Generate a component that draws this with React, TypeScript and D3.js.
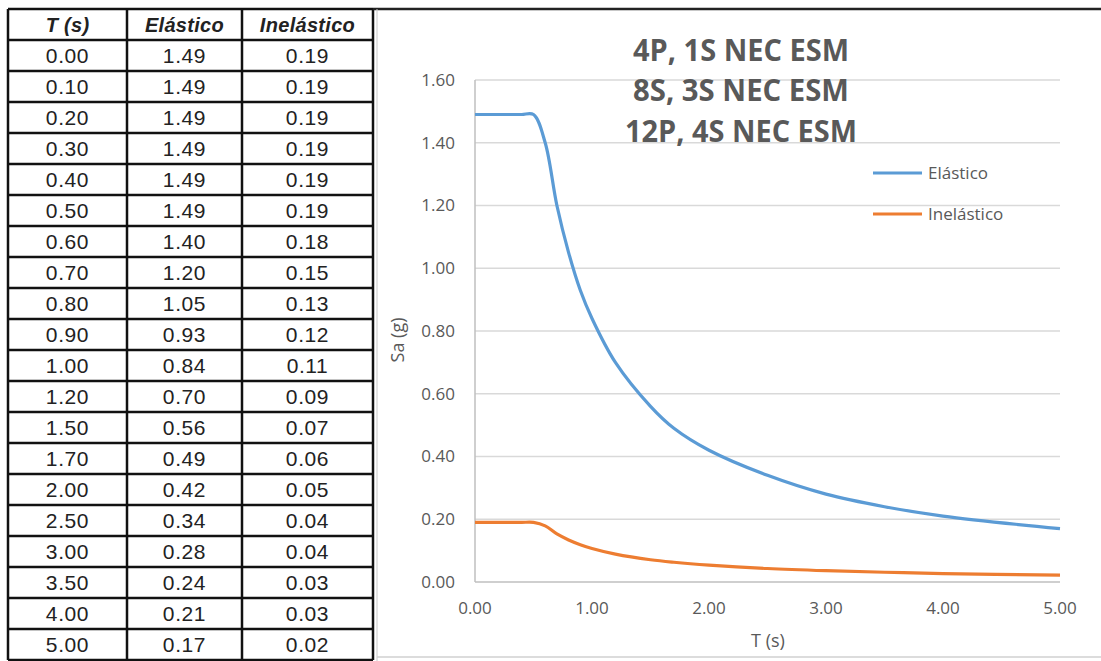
import React from "react";
import * as d3 from "d3";

// table values
const periods = [0, 0.1, 0.2, 0.3, 0.4, 0.5, 0.6, 0.7, 0.8, 0.9, 1.0, 1.2, 1.5, 1.7, 2.0, 2.5, 3.0, 3.5, 4.0, 5.0];
const elastico = [1.49, 1.49, 1.49, 1.49, 1.49, 1.49, 1.4, 1.2, 1.05, 0.93, 0.84, 0.7, 0.56, 0.49, 0.42, 0.34, 0.28, 0.24, 0.21, 0.17];
const inelastico = [0.19, 0.19, 0.19, 0.19, 0.19, 0.19, 0.18, 0.15, 0.13, 0.12, 0.11, 0.09, 0.07, 0.06, 0.05, 0.04, 0.04, 0.03, 0.03, 0.02];
// plotted inelastic curve (smoother than the rounded table)
const inelasticoCurve = [0.19, 0.19, 0.19, 0.19, 0.19, 0.19, 0.179, 0.153, 0.134, 0.119, 0.107, 0.089, 0.071, 0.063, 0.054, 0.043, 0.036, 0.031, 0.027, 0.022];
const headers = ["T (s)", "Elástico", "Inelástico"];
const titleLines = ["4P, 1S NEC ESM", "8S, 3S NEC ESM", "12P, 4S NEC ESM"];
const yTicks = [0, 0.2, 0.4, 0.6, 0.8, 1.0, 1.2, 1.4, 1.6];
const xTicks = [0, 1, 2, 3, 4, 5];

const series = [
  { name: "Elástico", values: elastico, color: "#5B9BD5" },
  { name: "Inelástico", values: inelasticoCurve, color: "#ED7D31" },
];

const W = 1101;
const H = 661;
const gray = "#595959";
const chartFont = "'Open Sans', sans-serif";
const tableFont = "'Liberation Sans', Arial, sans-serif";

const App = () => {
  // table geometry
  const colEdges = [8, 127, 242, 373];
  const tableTop = 9;
  const rowH = 31;
  const tableBottom = tableTop + rowH * (periods.length + 1);

  const x = d3.scaleLinear().domain([0, 5]).range([475, 1060]);
  const y = d3.scaleLinear().domain([0, 1.6]).range([582, 80]);

  const line = (vals: number[]) =>
    d3
      .line<number>()
      .x((_, i) => x(periods[i]))
      .y((d) => y(d))
      .curve(d3.curveCatmullRom.alpha(0.5))(vals) || "";

  const fmt = d3.format(".2f");
  const rows = periods.map((t, i) => [fmt(t), fmt(elastico[i]), fmt(inelastico[i])]);
  const colCenter = (c: number) => (colEdges[c] + colEdges[c + 1]) / 2;

  return (
    <svg width={W} height={H} style={{ position: "fixed", left: 0, top: 0, background: "#fff" }}>
      <rect width={W} height={H} fill="#fff" />

      {/* table */}
      <g fontFamily={tableFont} fill="#222">
        {headers.map((h, c) => (
          <text
            key={h}
            x={colCenter(c)}
            y={tableTop + rowH / 2 + 7}
            textAnchor="middle"
            fontSize={20}
            fontWeight="bold"
            fontStyle="italic"
            letterSpacing={0.3}
          >
            {h}
          </text>
        ))}
        {rows.map((r, i) =>
          r.map((v, c) => (
            <text
              key={`${i}-${c}`}
              x={colCenter(c)}
              y={tableTop + rowH * (i + 1) + rowH / 2 + 7.5}
              textAnchor="middle"
              fontSize={21}
              letterSpacing={0.6}
            >
              {v}
            </text>
          ))
        )}
        {d3.range(periods.length + 2).map((i) => (
          <line
            key={`h${i}`}
            x1={colEdges[0]}
            x2={colEdges[3]}
            y1={tableTop + i * rowH}
            y2={tableTop + i * rowH}
            stroke="#111"
            strokeWidth={2.5}
          />
        ))}
        {colEdges.map((cx, i) => (
          <line key={`v${i}`} x1={cx} x2={cx} y1={tableTop} y2={tableBottom} stroke="#111" strokeWidth={2.5} />
        ))}
      </g>

      {/* chart frame */}
      <line x1={373} x2={W} y1={9} y2={9} stroke="#222" strokeWidth={2.5} />
      <line x1={377} x2={377} y1={9} y2={H} stroke="#c8c8c8" strokeWidth={1} />
      <line x1={377} x2={W} y1={657} y2={657} stroke="#d0d0d0" strokeWidth={1.5} />

      {/* grid */}
      {yTicks.slice(1).map((t) => (
        <line key={t} x1={x(0)} x2={x(5)} y1={y(t)} y2={y(t)} stroke="#d9d9d9" strokeWidth={1.3} />
      ))}
      <line x1={x(0)} x2={x(5)} y1={y(0)} y2={y(0)} stroke="#bfbfbf" strokeWidth={1.5} />
      <line x1={x(0)} x2={x(0)} y1={y(1.6)} y2={y(0)} stroke="#bfbfbf" strokeWidth={1.5} />

      {/* tick labels */}
      <g fontFamily={chartFont} fontSize={17} fill={gray}>
        {yTicks.map((t) => (
          <text key={t} x={455} y={y(t)} dy="0.35em" textAnchor="end">
            {fmt(t)}
          </text>
        ))}
        {xTicks.map((t) => (
          <text key={t} x={x(t)} y={608} dy="0.35em" textAnchor="middle">
            {fmt(t)}
          </text>
        ))}
        <text x={768} y={641} dy="0.35em" textAnchor="middle" fontSize={18}>
          T (s)
        </text>
        <text transform="translate(398,340) rotate(-90)" dy="0.35em" textAnchor="middle" fontSize={18}>
          Sa (g)
        </text>
      </g>

      {/* title */}
      <g fontFamily={chartFont} fontWeight="bold" fontSize={30} fill={gray}>
        {titleLines.map((t, i) => (
          <text
            key={t}
            x={741}
            y={50 + i * 40.5}
            dy="0.36em"
            textAnchor="middle"
            textLength={i === 2 ? 232 : 216}
            lengthAdjust="spacingAndGlyphs"
          >
            {t}
          </text>
        ))}
      </g>

      {/* series */}
      {series.map((s) => (
        <path key={s.name} d={line(s.values)} fill="none" stroke={s.color} strokeWidth={3.2} strokeLinejoin="round" />
      ))}

      {/* legend */}
      <g fontFamily={chartFont} fontSize={17} fill={gray}>
        {series.map((s, i) => (
          <g key={s.name} transform={`translate(0, ${173 + i * 41})`}>
            <line x1={873} x2={922} y1={0} y2={0} stroke={s.color} strokeWidth={3.2} />
            <text x={928} y={0} dy="0.35em">
              {s.name}
            </text>
          </g>
        ))}
      </g>
    </svg>
  );
};

export default App;
